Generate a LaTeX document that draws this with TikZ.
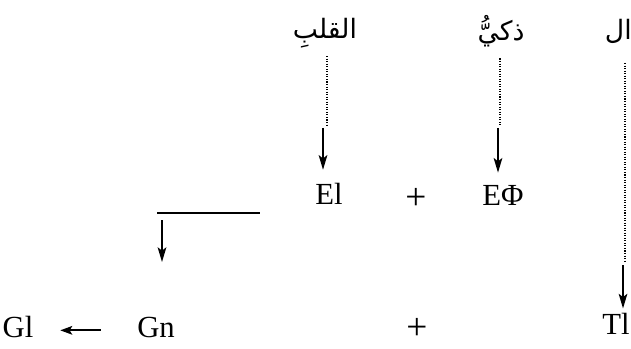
\documentclass[tikz,border=0pt]{standalone}
\usepackage{fontspec}
\setmainfont{Liberation Serif}
\newfontfamily\arabicfont[Script=Arabic]{DejaVu Sans}
\TeXXeTstate=1
\usepackage{tikz}
\usetikzlibrary{arrows.meta}
\def\mydots{black}

\begin{document}
\begin{tikzpicture}[x=0.75pt,y=0.75pt,
  lat/.style={anchor=base,inner sep=3pt,font=\fontsize{23}{27}\selectfont},
  plus/.style={anchor=base,inner sep=3pt,font=\fontsize{28}{32}\selectfont},
  arab/.style={anchor=base,inner sep=2pt,font={\arabicfont\fontsize{20}{24}\selectfont}},
  arr/.style={-{Stealth[length=11pt,width=6.5pt,inset=2.5pt]},line width=1.3pt},
  arrh/.style={-{Stealth[length=9pt,width=6.5pt,inset=2pt]},line width=1.3pt},
  dots/.style={\mydots,line width=0.9pt,dash pattern=on 0.8pt off 1.1pt}]
\useasboundingbox (0,0) rectangle (631,-349);
% the words
\node [arab] (qalb) at (325,-39) {\beginR القلبِ\endR};
\node [arab] (dhaki) at (501,-41) {\beginR ذكيُّ\endR};
\node [arab,anchor=base east,inner sep=0pt] (al) at (632,-40) {\beginR ال\endR};
% first row
\node [lat] (El) at (329,-204) {El};
\node [plus] (plusA) at (416,-209) {+};
\node [lat] (EPhi) at (503,-205) {EΦ};
% second row
\node [lat] (Gl) at (18,-337) {Gl};
\node [lat] (Gn) at (156,-337) {Gn};
\node [plus] (plusB) at (417,-339) {+};
\node [lat,anchor=base east] (Tl) at (634,-334) {Tl};
% from the words down
\coordinate (qa) at (327,-125);
\coordinate (qb) at (323,-128);
\draw [dots] ([yshift=-4pt]qalb.south -| qa) -- (qa);
\draw [arr,shorten >=6.5pt] (qb) -- (qb |- El.north);
\coordinate (da) at (500,-125);
\coordinate (db) at (498,-128);
\draw [dots] ([yshift=-6pt]dhaki.south -| da) -- (da);
\draw [arr,shorten >=6pt] (db) -- (db |- EPhi.north);
\coordinate (ta) at (625,-262);
\coordinate (tb) at (623,-265);
\draw [dots] ([yshift=-14pt]al.south -| ta) -- (ta);
\draw [arr] (tb) -- (tb |- Tl.north);
% the bar
\coordinate (barL) at (157,-213);
\coordinate (barR) at (260,-213);
\draw [line width=1.8pt] (barL) -- (barR);
\draw [arr] ([shift={(5,-7)}]barL) -- ([shift={(5,-49)}]barL);
\draw [arrh] ([shift={(-24pt,5pt)}]Gn.base west) -- ([shift={(17pt,5pt)}]Gl.base east);
\end{tikzpicture}
\end{document}
